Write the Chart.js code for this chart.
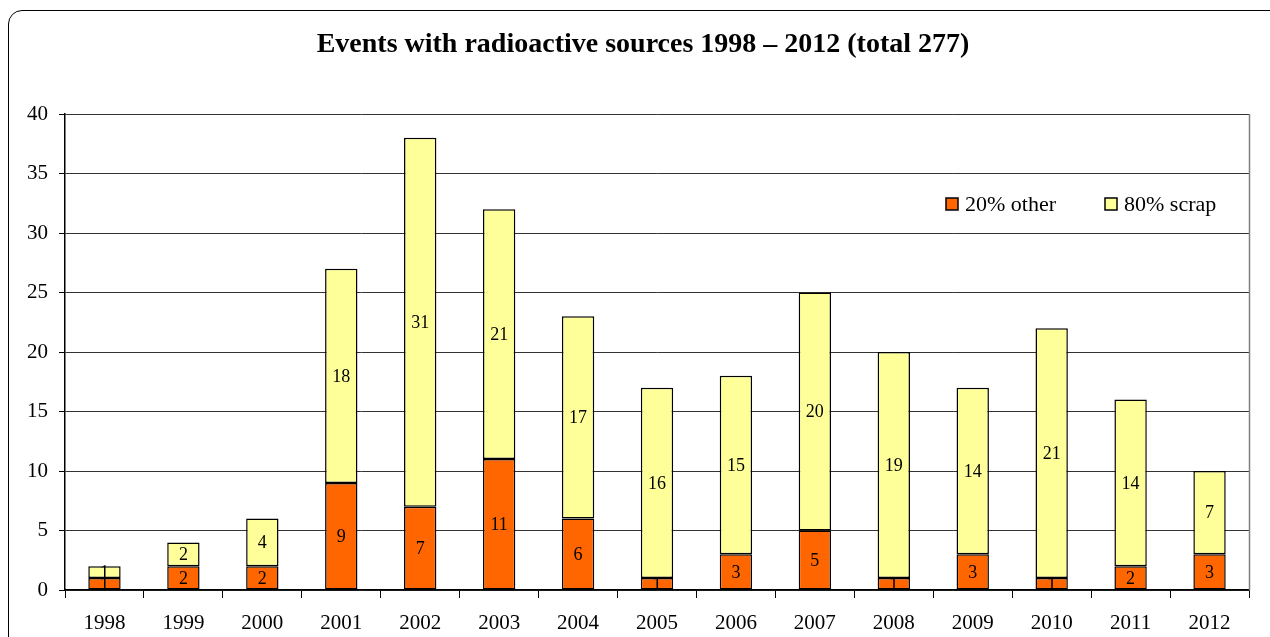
<!DOCTYPE html>
<html>
<head>
<meta charset="utf-8">
<script src="https://cdn.jsdelivr.net/npm/chart.js@4/dist/chart.umd.min.js"></script>
<style>
  body { margin: 0; background: #fff; }
  #wrap { position: relative; width: 1270px; height: 637px; overflow: hidden; }
  #frame { position: absolute; left: 8px; top: 10px; width: 1300px; height: 700px;
           border: 1.5px solid #000; border-radius: 14px; box-sizing: border-box; }
  canvas { position: absolute; left: 0; top: 0; }
</style>
</head>
<body>
<div id="wrap">
  <div id="frame"></div>
  <canvas id="grafico" width="1270" height="637"></canvas>
</div>
<script>
// datos
const years = ['1998','1999','2000','2001','2002','2003','2004','2005','2006','2007','2008','2009','2010','2011','2012'];
const other = [1, 2, 2, 9, 7, 11, 6, 1, 3, 5, 1, 3, 1, 2, 3];
const scrap = [1, 2, 4, 18, 31, 21, 17, 16, 15, 20, 19, 14, 21, 14, 7];
const legendNames = ['20% other', '80% scrap'];
const titulo = 'Events with radioactive sources 1998 – 2012 (total 277)';
const colores = ['#FF6600', '#FFFF99'];
const fuente = "'Liberation Serif', 'DejaVu Serif', serif";

// etiquetas dentro de cada segmento
const etiquetas = {
    id: 'etiquetas',
    afterDatasetsDraw(chart) {
        const ctx = chart.ctx;
        ctx.save();
        ctx.fillStyle = '#000';
        ctx.textAlign = 'center';
        ctx.textBaseline = 'middle';
        ctx.font = '18px ' + fuente;
        chart.data.datasets.forEach((ds, i) => {
            chart.getDatasetMeta(i).data.forEach((bar, j) => {
                const y = (bar.y + bar.base) / 2;
                ctx.fillText(String(ds.data[j]), bar.x, y + 1);
            });
        });
        ctx.restore();
    }
};

// titulo, leyenda dentro del area del grafico y borde derecho gris
const leyenda = {
    id: 'leyenda',
    afterDraw(chart) {
        const ctx = chart.ctx;
        const a = chart.chartArea;
        ctx.save();
        ctx.fillStyle = '#000';
        ctx.font = 'bold 28px ' + fuente;
        ctx.textAlign = 'center';
        ctx.textBaseline = 'middle';
        ctx.fillText(titulo, 643, 45);

        ctx.strokeStyle = '#808080';
        ctx.lineWidth = 1.5;
        ctx.beginPath();
        ctx.moveTo(a.right + 0.5, a.top);
        ctx.lineTo(a.right + 0.5, a.bottom);
        ctx.stroke();

        const xs = [946, 1105];
        const y = 204;
        ctx.font = '22px ' + fuente;
        ctx.textAlign = 'left';
        legendNames.forEach((n, i) => {
            ctx.fillStyle = colores[i];
            ctx.fillRect(xs[i], y - 6, 12, 12);
            ctx.strokeStyle = '#000';
            ctx.lineWidth = 1.5;
            ctx.strokeRect(xs[i], y - 6, 12, 12);
            ctx.fillStyle = '#000';
            ctx.fillText(n, xs[i] + 19, y + 1);
        });
        ctx.restore();
    }
};

const ctx = document.getElementById('grafico').getContext('2d');
new Chart(ctx, {
    type: 'bar',
    data: {
        labels: years,
        datasets: [{
            label: legendNames[0],
            data: other,
            backgroundColor: colores[0],
            borderColor: '#000',
            borderWidth: 1.5,
            borderSkipped: false
        }, {
            label: legendNames[1],
            data: scrap,
            backgroundColor: colores[1],
            borderColor: '#000',
            borderWidth: 1.5,
            borderSkipped: false
        }]
    },
    options: {
        responsive: false,
        animation: false,
        datasets: { bar: { barPercentage: 0.41, categoryPercentage: 1 } },
        layout: { padding: { left: 0, right: 21, top: 114, bottom: 0 } },
        plugins: {
            legend: { display: false },
            tooltip: { enabled: false },
            title: { display: false }
        },
        scales: {
            x: {
                stacked: true,
                afterFit(s) { s.height = 47; },
                grid: { drawOnChartArea: false, color: '#000', tickLength: 8, offset: true },
                border: { color: '#000', width: 1.5 },
                ticks: { color: '#000', font: { family: fuente, size: 21 }, padding: 13 }
            },
            y: {
                stacked: true,
                min: 0,
                max: 40,
                afterFit(s) { s.width = 65; },
                grid: { color: '#333333', tickColor: '#000', tickLength: 6 },
                border: { color: '#000', width: 1.5 },
                ticks: { stepSize: 5, color: '#000', font: { family: fuente, size: 21 }, padding: 11 }
            }
        }
    },
    plugins: [etiquetas, leyenda]
});
</script>
</body>
</html>
